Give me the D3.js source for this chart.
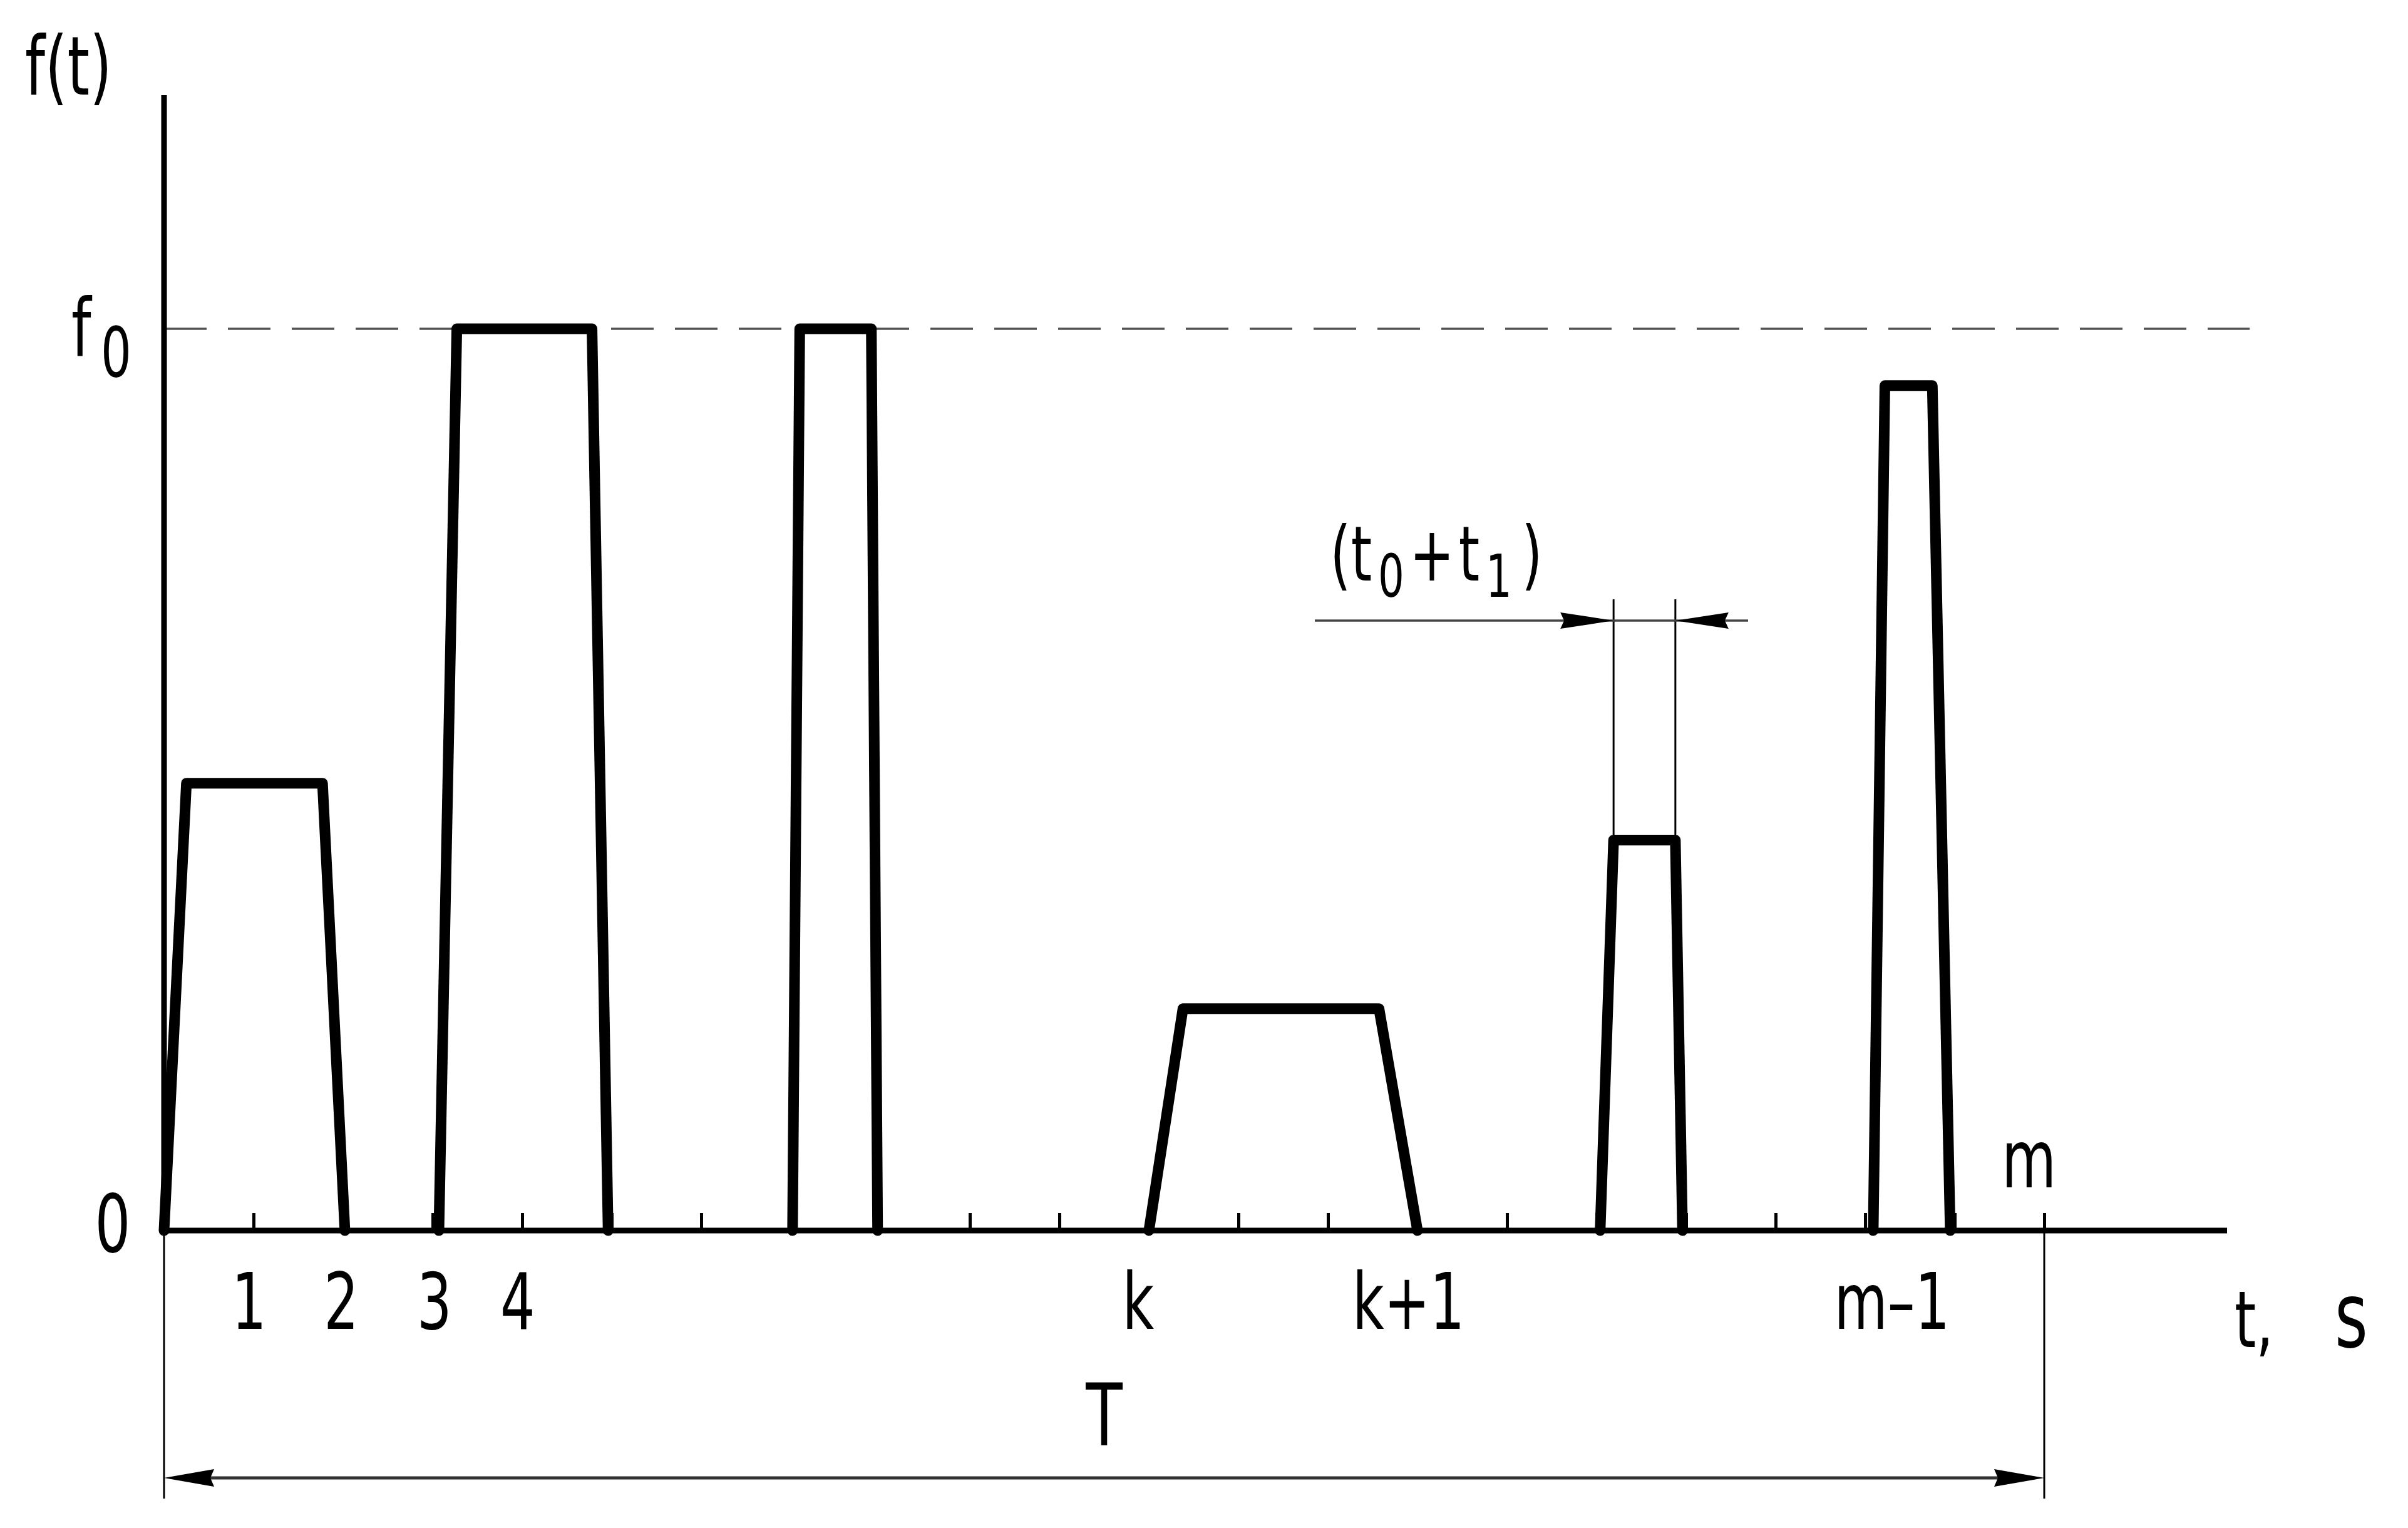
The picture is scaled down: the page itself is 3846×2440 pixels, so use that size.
<!DOCTYPE html>
<html><head><meta charset="utf-8">
<script src="https://cdn.jsdelivr.net/npm/d3@7"></script>
<style>html,body{margin:0;padding:0;background:#fff;} svg{display:block;}</style>
</head><body>
<script>
// ---------- data (time in tick intervals, level as fraction of f0) ----------
const tickValues    = [1,2,3,4,5,6,7,8,9,10,11,12,13,14,15,16,17,18,19,20,21];
const pulseStart    = [0.00, 3.07, 7.02, 11.00, 16.04, 19.09];
const pulseTopStart = [0.25, 3.27, 7.10, 11.38, 16.19, 19.22];
const pulseTopEnd   = [1.77, 4.78, 7.90, 13.57, 16.88, 19.75];
const pulseEnd      = [2.02, 4.96, 7.97, 14.00, 16.96, 19.95];
const pulseLevel    = [0.496, 1.0, 1.0, 0.246, 0.433, 0.937];
const tickLabels    = ["1", "2", "3", "4", "k", "k+1", "m–1"];
const tickLabelPos  = [0.95, 1.98, 3.02, 3.95, 10.88, 13.90, 19.30];
const periodEnd     = 21;      // m
const mLabelPos     = 20.83;
const dimPulse      = 4;       // pulse carrying the (t0+t1) dimension

// ---------- layout ----------
const W = 3846, H = 2440;
const FONT = "DejaVu Sans";
const SX = 0.7;
const x = d3.scaleLinear().domain([0, 21]).range([262, 3265]);
const y = d3.scaleLinear().domain([0, 1]).range([1965, 525]);
const axisRight = 3557, dashRight = 3593, yAxisTop = 152;
const extBottom = 2393, dimTY = 2360;
const tickLen = 28;

const svg = d3.select("body").append("svg").attr("width", W).attr("height", H);
svg.append("rect").attr("width", W).attr("height", H).attr("fill", "#fff");

function txt(cx, cy, anchor, size, parts) {
  const t = svg.append("text")
    .attr("transform", `translate(${cx},${cy}) scale(${SX},1)`)
    .attr("text-anchor", anchor).attr("font-family", FONT)
    .attr("font-size", size).attr("fill", "#000");
  parts.forEach(p => {
    const ts = t.append("tspan").text(p.t);
    if (p.size) ts.attr("font-size", p.size);
    if (p.dy) ts.attr("dy", p.dy);
    if (p.dx) ts.attr("dx", p.dx);
  });
  return t;
}
function arrow(tx, ty, dir, L, w, notch) {
  const b = tx - dir * L;
  return `M${tx},${ty}L${b},${ty - w}L${tx - dir * (L - notch)},${ty}L${b},${ty + w}Z`;
}

// dashed f0 level
svg.append("line").attr("x1", x(0)).attr("x2", dashRight).attr("y1", y(1)).attr("y2", y(1))
  .attr("stroke", "#555").attr("stroke-width", 3.5).attr("stroke-dasharray", "68,34");

// ticks via d3 axis
svg.append("g").attr("transform", `translate(0,${y(0)})`)
  .call(d3.axisBottom(x).tickValues(tickValues).tickSize(-tickLen).tickSizeOuter(0).tickFormat(""))
  .call(g => g.select(".domain").remove())
  .call(g => g.selectAll(".tick line").attr("stroke", "#000").attr("stroke-width", 5));

// axes
svg.append("line").attr("x1", x(0)).attr("x2", axisRight).attr("y1", y(0)).attr("y2", y(0))
  .attr("stroke", "#000").attr("stroke-width", 9);
svg.append("line").attr("x1", x(0)).attr("x2", x(0)).attr("y1", y(0) + 4).attr("y2", yAxisTop)
  .attr("stroke", "#000").attr("stroke-width", 9);

// extension lines for T
svg.append("line").attr("x1", x(0)).attr("x2", x(0)).attr("y1", y(0)).attr("y2", extBottom)
  .attr("stroke", "#000").attr("stroke-width", 3);
svg.append("line").attr("x1", x(periodEnd)).attr("x2", x(periodEnd)).attr("y1", y(0)).attr("y2", extBottom)
  .attr("stroke", "#000").attr("stroke-width", 3);

// pulses
const line = d3.line().x(d => x(d[0])).y(d => y(d[1]));
const pulses = pulseStart.map((s, i) => [[s, 0], [pulseTopStart[i], pulseLevel[i]], [pulseTopEnd[i], pulseLevel[i]], [pulseEnd[i], 0]]);
svg.append("g").selectAll("path").data(pulses).join("path")
  .attr("d", line).attr("fill", "none").attr("stroke", "#000").attr("stroke-width", 17)
  .attr("stroke-linejoin", "round").attr("stroke-linecap", "round");

// T dimension
svg.append("line").attr("x1", x(0) + 20).attr("x2", x(periodEnd) - 20).attr("y1", dimTY).attr("y2", dimTY)
  .attr("stroke", "#333").attr("stroke-width", 5);
svg.append("path").attr("d", arrow(x(0), dimTY, -1, 80, 14, 6)).attr("fill", "#000");
svg.append("path").attr("d", arrow(x(periodEnd), dimTY, 1, 80, 14, 6)).attr("fill", "#000");
txt((x(0) + x(periodEnd)) / 2, 2308, "middle", 137, [{t: "T"}]);

// (t0+t1) dimension
const eL = x(pulseTopStart[dimPulse]), eR = x(pulseTopEnd[dimPulse]);
const eBottom = y(pulseLevel[dimPulse]) - 8, eTop = 957, dimY = 991;
[eL, eR].forEach(ex => svg.append("line").attr("x1", ex).attr("x2", ex).attr("y1", eTop).attr("y2", eBottom)
  .attr("stroke", "#000").attr("stroke-width", 3));
svg.append("line").attr("x1", 2100).attr("x2", 2792).attr("y1", dimY).attr("y2", dimY)
  .attr("stroke", "#444").attr("stroke-width", 3.5);
svg.append("path").attr("d", arrow(eL, dimY, 1, 85, 13, 6)).attr("fill", "#000");
svg.append("path").attr("d", arrow(eR, dimY, -1, 85, 13, 6)).attr("fill", "#000");
txt(2294, 927, "middle", 122, [
  {t: "(t"}, {t: "0", size: 94, dy: 26, dx: 14}, {t: "+", dy: -26, dx: 12}, {t: "t", dx: 10},
  {t: "1", size: 94, dy: 26, dx: 14}, {t: ")", dy: -26, dx: 22}
]);

// axis texts
txt(40, 151, "start", 130, [{t: "f(t)"}]);
txt(114, 569, "start", 128, [{t: "f"}, {t: "0", size: 110, dy: 32, dx: 22}]);
txt(180, 1999, "middle", 128, [{t: "0"}]);
tickLabels.forEach((lab, i) => txt(x(tickLabelPos[i]), 2122, "middle", 125, [{t: lab}]));
txt(x(mLabelPos), 1896, "middle", 128, [{t: "m"}]);
txt(3569, 2151, "start", 125, [{t: "t,"}, {t: "s", dx: 140, size: 145}]);
</script>
</body></html>
